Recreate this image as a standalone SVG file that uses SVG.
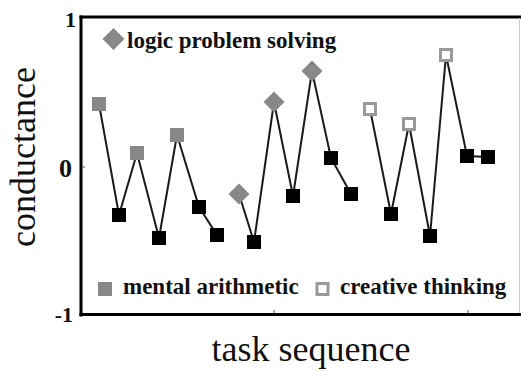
<svg xmlns="http://www.w3.org/2000/svg" width="521" height="371" viewBox="0 0 521 371">
<style>
.ax{stroke:#000;stroke-width:3;fill:none}
.tk{stroke:#555;stroke-width:1;fill:none}
.ln{stroke:#1a1a1a;stroke-width:2;fill:none}
.ma{fill:#888}
.bk{fill:#000}
.ct{fill:#fff;stroke:#999;stroke-width:3}
.lg{fill:#888}
.num{font-family:"Liberation Serif",serif;font-weight:bold;fill:#111}
.lab{font-family:"Liberation Serif",serif;font-size:36px;fill:#111}
.leg{font-family:"Liberation Serif",serif;font-weight:bold;font-size:23px;fill:#111}
</style>
<rect width="521" height="371" fill="#fff"/>
<g id="frame">
<line class="ax" x1="81" y1="15.5" x2="81" y2="316.5"/>
<line class="ax" x1="79.5" y1="17" x2="521" y2="17"/>
<line class="ax" x1="79.5" y1="314.5" x2="521" y2="314.5"/>
<line x1="519.5" y1="18" x2="519.5" y2="313" stroke="#ccc" stroke-width="1"/>
<line class="tk" x1="82" y1="167" x2="85" y2="167"/>
<line class="tk" x1="274" y1="313" x2="274" y2="310"/>
<line class="tk" x1="468" y1="313" x2="468" y2="310"/>
</g>
<g id="axis-labels">
<text class="num" x="76" y="27" font-size="22" text-anchor="end">1</text>
<text class="num" x="72" y="177" font-size="26" text-anchor="end">0</text>
<text class="num" x="73" y="322" font-size="22" text-anchor="end">-1</text>
<text class="lab" transform="translate(35,157) rotate(-90)" text-anchor="middle">conductance</text>
<text class="lab" x="311" y="361" text-anchor="middle">task sequence</text>
</g>
<g id="legend">
<g id="legend-logic">
<polygon class="lg" points="113.5,28 124.5,39 113.5,50 102.5,39"/>
<text class="leg" x="127" y="48">logic problem solving</text>
</g>
<g id="legend-mental">
<rect class="lg" x="98" y="282" width="14" height="14"/>
<text class="leg" x="123" y="294">mental arithmetic</text>
</g>
<g id="legend-creative">
<rect class="ct" x="317" y="283.5" width="11" height="11"/>
<text class="leg" x="340" y="294">creative thinking</text>
</g>
</g>
<g id="connectors">
<polyline class="ln" points="99,104 119,215 137,153 159,238 177,135 199,207 217,235"/>
<polyline class="ln" points="239,194 254,242 274,102 293,196 312,71 331,158 351,194"/>
<polyline class="ln" points="370,109 391,214 409,124 430,236 446,55 467,156 488,157"/>
</g>
<g id="points">
<g id="m1"><rect class="ma" x="92" y="97" width="14" height="14"/></g>
<g id="b1"><rect class="bk" x="112" y="208" width="14" height="14"/></g>
<g id="m2"><rect class="ma" x="130" y="146" width="14" height="14"/></g>
<g id="b2"><rect class="bk" x="152" y="231" width="14" height="14"/></g>
<g id="m3"><rect class="ma" x="170" y="128" width="14" height="14"/></g>
<g id="b3"><rect class="bk" x="192" y="200" width="14" height="14"/></g>
<g id="b4"><rect class="bk" x="210" y="228" width="14" height="14"/></g>
<g id="d1"><polygon class="ma" points="239,183.5 249.5,194 239,204.5 228.5,194"/></g>
<g id="b5"><rect class="bk" x="247" y="235" width="14" height="14"/></g>
<g id="d2"><polygon class="ma" points="274,91.5 284.5,102 274,112.5 263.5,102"/></g>
<g id="b6"><rect class="bk" x="286" y="189" width="14" height="14"/></g>
<g id="d3"><polygon class="ma" points="312,60.5 322.5,71 312,81.5 301.5,71"/></g>
<g id="b7"><rect class="bk" x="324" y="151" width="14" height="14"/></g>
<g id="b8"><rect class="bk" x="344" y="187" width="14" height="14"/></g>
<g id="c1"><rect class="ct" x="364.5" y="103.5" width="11" height="11"/></g>
<g id="b9"><rect class="bk" x="384" y="207" width="14" height="14"/></g>
<g id="c2"><rect class="ct" x="403.5" y="118.5" width="11" height="11"/></g>
<g id="b10"><rect class="bk" x="423" y="229" width="14" height="14"/></g>
<g id="c3"><rect class="ct" x="440.5" y="49.5" width="11" height="11"/></g>
<g id="b11"><rect class="bk" x="460" y="149" width="14" height="14"/></g>
<g id="b12"><rect class="bk" x="481" y="150" width="14" height="14"/></g>
</g>
</svg>
